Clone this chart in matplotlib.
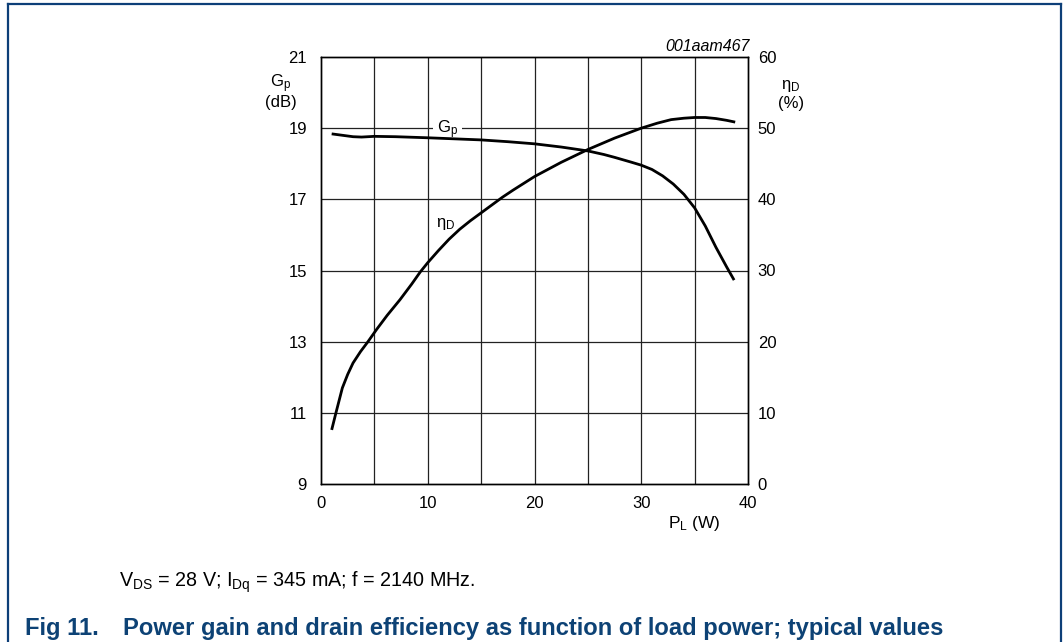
import matplotlib
matplotlib.use("Agg")
import matplotlib.pyplot as plt
from matplotlib.lines import Line2D

plt.rcParams['font.family'] = ['Liberation Sans', 'DejaVu Sans']
plt.rcParams['mathtext.fontset'] = 'custom'
plt.rcParams['mathtext.rm'] = 'Liberation Sans'
plt.rcParams['mathtext.it'] = 'Liberation Sans:italic'
plt.rcParams['mathtext.bf'] = 'Liberation Sans:bold'

# ---- data ----
gp_power = [1.0, 1.5, 2.0, 3.0, 3.8, 5.0, 7.0, 10.0, 12.5, 15.0, 17.5, 20.0, 22.5,
            25.0, 26.5, 27.5, 29.0, 30.0, 31.0, 32.0, 33.0, 34.0, 35.0, 36.0,
            37.0, 38.0, 38.7]
gp_db = [18.84, 18.82, 18.80, 18.76, 18.75, 18.77, 18.76, 18.73, 18.70, 18.67,
         18.62, 18.56, 18.47, 18.36, 18.26, 18.18, 18.05, 17.96, 17.84, 17.66,
         17.43, 17.14, 16.76, 16.25, 15.65, 15.10, 14.73]

eta_power = [1.0, 1.4, 2.0, 2.5, 3.0, 3.7, 4.4, 5.2, 6.2, 7.4, 8.5, 9.3, 10.0,
             11.0, 12.0, 13.0, 14.0, 15.0, 16.0, 17.0, 18.0, 20.0, 22.5, 25.0,
             27.5, 30.0, 31.5, 32.8, 34.0, 35.0, 36.0, 37.0, 38.0, 38.8]
eta_pct = [7.6, 10.0, 13.5, 15.4, 17.0, 18.6, 20.0, 21.7, 23.7, 25.9, 28.1, 29.8,
           31.1, 32.8, 34.4, 35.8, 37.0, 38.1, 39.2, 40.3, 41.3, 43.2, 45.2, 47.0,
           48.6, 50.0, 50.7, 51.2, 51.4, 51.5, 51.5, 51.35, 51.1, 50.85]

x_ticks = [0, 10, 20, 30, 40]
gp_ticks = [9, 11, 13, 15, 17, 19, 21]
eta_ticks = [0, 10, 20, 30, 40, 50, 60]
x_grid = [5, 10, 15, 20, 25, 30, 35]

W, H = 1063, 642
fig = plt.figure(figsize=(W / 100, H / 100), dpi=100)

def fx(px):
    return px / W

def fy(py):
    return 1 - py / H

ax = fig.add_axes([fx(321), fy(484), fx(748) - fx(321), fy(57) - fy(484)])
ax.set_xlim(0, 40)
ax.set_ylim(9, 21)
ax2 = ax.twinx()
ax2.set_ylim(0, 60)

gcol = '#222222'
for xv in x_grid:
    ax.axvline(xv, color=gcol, lw=0.9, zorder=1)
for yv in gp_ticks[1:-1]:
    ax.axhline(yv, color=gcol, lw=0.9, zorder=1)

ax.plot(gp_power, gp_db, color='black', lw=2.0, zorder=3,
        solid_capstyle='butt', solid_joinstyle='round')
ax2.plot(eta_power, eta_pct, color='black', lw=2.0, zorder=3,
         solid_capstyle='butt', solid_joinstyle='round')

ax.set_xticks(x_ticks)
ax.set_yticks(gp_ticks)
ax2.set_yticks(eta_ticks)
ax.tick_params(axis='both', length=0, labelsize=12)
ax.tick_params(axis='x', pad=9)
ax.tick_params(axis='y', pad=10)
ax2.tick_params(axis='y', length=0, labelsize=12, pad=7)
for a in (ax, ax2):
    for s in a.spines.values():
        s.set_linewidth(1.0)
        s.set_color('black')

# curve labels
ax.text(11.85, 18.86, r'$\mathregular{G_p}$', fontsize=12, ha='center', va='baseline',
        zorder=2, bbox=dict(facecolor='white', edgecolor='none', pad=3))
ax2.text(10.8, 36.5, r'$\mathregular{η_D}$', fontsize=12, ha='left', va='center', zorder=4)

# axis labels
fig.text(fx(281), fy(87), r'$\mathregular{G_p}$', fontsize=12, ha='center', va='baseline')
fig.text(fx(281), fy(107), '(dB)', fontsize=12, ha='center', va='baseline')
fig.text(fx(791), fy(89), r'$\mathregular{η_D}$', fontsize=12, ha='center', va='baseline')
fig.text(fx(791), fy(108), '(%)', fontsize=12, ha='center', va='baseline')
fig.text(fx(694), fy(528), r'$\mathregular{P_L}$ (W)', fontsize=12.5, ha='center', va='baseline')
fig.text(fx(750), fy(51), '001aam467', fontsize=11.5, style='italic', ha='right', va='baseline')

# footnote and caption
fig.text(fx(119), fy(587), r'$\mathregular{V_{DS}}$ = 28 V; $\mathregular{I_{Dq}}$ = 345 mA; f = 2140 MHz.',
         fontsize=14.2, ha='left', va='baseline')
tcol = '#0d4275'
fig.text(fx(25), fy(635), 'Fig 11.', fontsize=17.1, fontweight='bold', color=tcol,
         ha='left', va='baseline')
fig.text(fx(123), fy(635), 'Power gain and drain efficiency as function of load power; typical values',
         fontsize=17.1, fontweight='bold', color=tcol, ha='left', va='baseline')

# frame
bcol = '#0d3f78'
fig.add_artist(Line2D([fx(8), fx(8)], [fy(4), 0], color=bcol, lw=1.6, transform=fig.transFigure))
fig.add_artist(Line2D([fx(8), fx(1061)], [fy(4), fy(4)], color=bcol, lw=1.6, transform=fig.transFigure))
fig.add_artist(Line2D([fx(1061), fx(1061)], [fy(4), 0], color=bcol, lw=1.6, transform=fig.transFigure))

fig.savefig('out.png', dpi=100)
